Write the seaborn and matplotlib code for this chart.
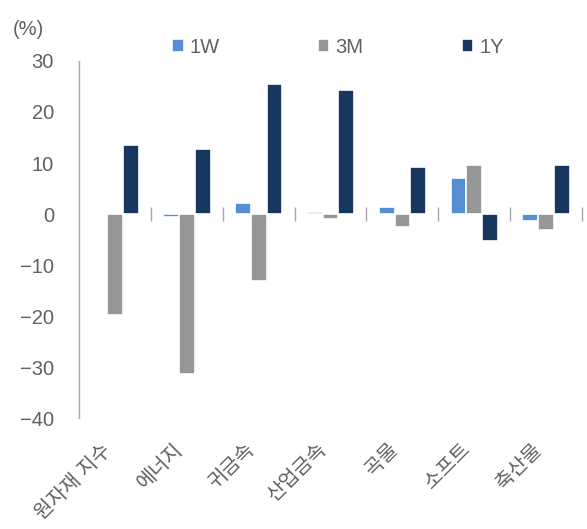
import matplotlib
matplotlib.use("Agg")
import matplotlib.pyplot as plt
import matplotlib.transforms as mtransforms
import seaborn as sns
import pandas as pd
import numpy as np

# data
categories = ["원자재 지수", "에너지", "귀금속", "산업금속", "곡물", "소프트", "축산물"]
ret_1w = [0.2, -0.5, 2.1, 0.3, 1.4, 7.0, -1.4]
ret_3m = [-19.9, -31.4, -13.1, -1.0, -2.5, 9.6, -3.2]
ret_1y = [13.5, 12.7, 25.5, 24.3, 9.2, -5.3, 9.6]
periods = ["1W", "3M", "1Y"]
colors = ["#558ED5", "#969696", "#17375E"]

rows = []
for p, vals in zip(periods, [ret_1w, ret_3m, ret_1y]):
    for c, v in zip(categories, vals):
        rows.append({"category": c, "period": p, "value": v})
df = pd.DataFrame(rows)

sns.set_style("white")
plt.rcParams['font.family'] = ['Liberation Sans', 'Noto Sans CJK KR', 'DejaVu Sans']
plt.rcParams['axes.unicode_minus'] = True

grey = "#606060"
fig = plt.figure(figsize=(5.87, 5.29), dpi=100)
ax = fig.add_axes([0.1346, 0.2098, 0.857, 0.6749])

sns.barplot(data=df, x="category", y="value", hue="period", order=categories,
            hue_order=periods, palette=colors, saturation=1, width=0.66,
            edgecolor="white", linewidth=1.2, ax=ax, legend=True)

ax.set_ylim(-40, 30)
ax.set_xlim(-0.5, len(categories) - 0.5)
ax.set_yticks(np.arange(-40, 31, 10))
ax.set_xlabel("")
ax.set_ylabel("")

for s in ["top", "right", "bottom"]:
    ax.spines[s].set_visible(False)
ax.spines["left"].set_color("#A6A6A6")
ax.spines["left"].set_linewidth(1.0)
ax.tick_params(axis="y", direction="in", length=5, color="#A6A6A6", labelsize=14.5,
               labelcolor=grey, pad=18)
ax.tick_params(axis="x", length=0, labelsize=14.5, labelcolor=grey, pad=8)
shift = mtransforms.ScaledTranslation(-14 / 100, -11 / 100, fig.dpi_scale_trans)
for lbl in ax.get_xticklabels():
    lbl.set_rotation(45)
    lbl.set_ha("right")
    lbl.set_rotation_mode("anchor")
    lbl.set_transform(lbl.get_transform() + shift)

# zero line with ticks between categories
zero_frac = 40 / 70
sec = ax.secondary_xaxis(zero_frac)
sec.set_xticks(np.arange(0.5, len(categories), 1.0))
sec.set_xticklabels([])
sec.tick_params(direction="inout", length=10, color="#A6A6A6", width=1.0)
sec.spines["bottom"].set_color("#A6A6A6")
sec.spines["bottom"].set_linewidth(1.2)
sec.spines["top"].set_visible(False)

ax.get_legend().remove()
handles, labels = ax.get_legend_handles_labels()
fig.legend(handles[:3], labels[:3], loc="center", bbox_to_anchor=(0.576, 0.911),
           ncol=3, frameon=False, fontsize=14.5, handlelength=0.55, handleheight=0.55,
           handletextpad=0.3, columnspacing=4.9, labelcolor=grey)

fig.text(0.022, 0.945, "(%)", fontsize=14.5, color=grey, ha="left", va="center")

fig.savefig("out.png", dpi=100)
